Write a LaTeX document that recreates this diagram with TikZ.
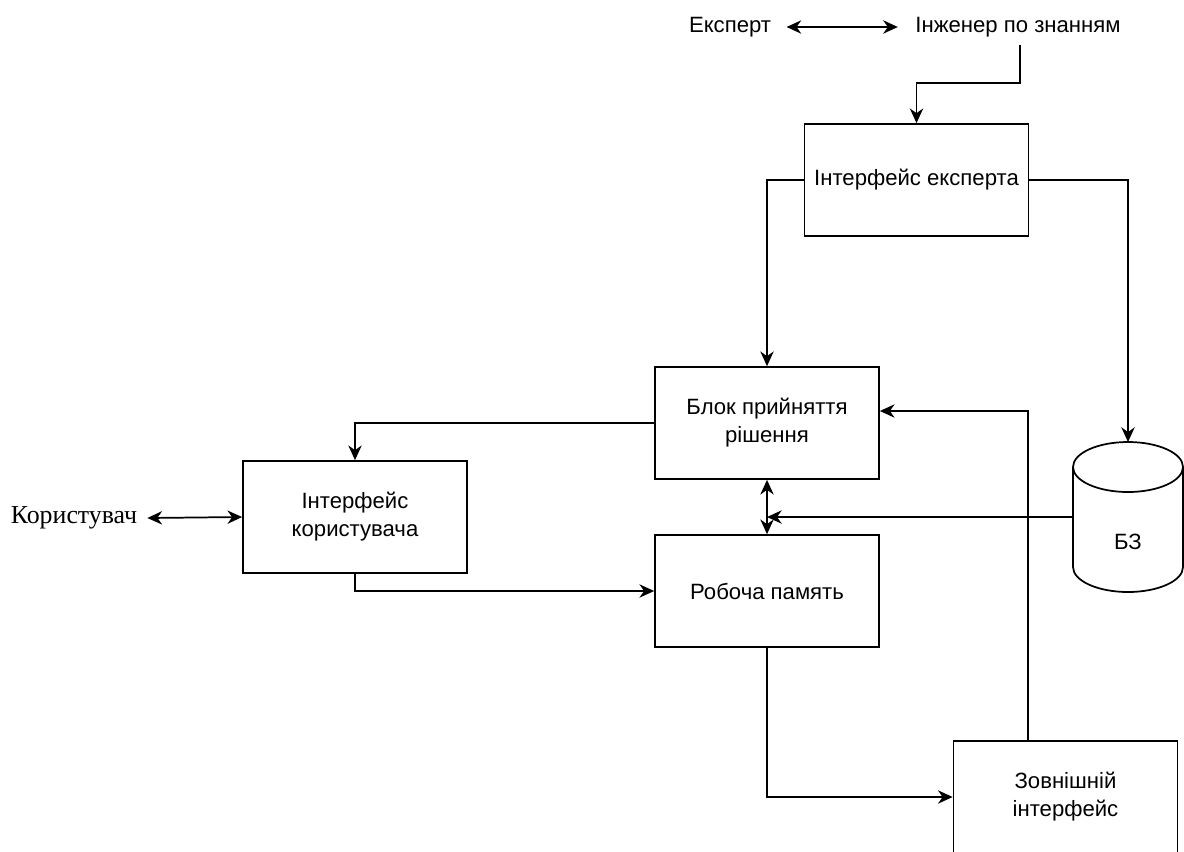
\documentclass[tikz,border=0pt]{standalone}
\usepackage{fontspec}
\setmainfont{Liberation Sans}
\newfontfamily\serifcyr{Liberation Serif}
\usetikzlibrary{arrows.meta}
\begin{document}
\begin{tikzpicture}[x=0.75pt,y=-0.75pt, line width=1.3pt,
  box/.style={draw, line width=1.3pt, minimum width=168pt, minimum height=84pt, align=center, font=\fontsize{16.6}{21}\selectfont, inner sep=0pt},
  lbl/.style={font=\fontsize{16.6}{21}\selectfont, inner sep=0pt},
  tip/.tip={Stealth[length=11pt,width=10pt,inset=3.5pt]},
  conn/.style={-tip},
  both/.style={tip-tip}
]
\useasboundingbox (0,0) rectangle (1184,851);
% nodes
\node[lbl] (exp) at (730,27) {Експерт};
\node[lbl] (eng) at (1018,27) {Інженер по знанням};
\node[box] (ie) at (916.5,180) {Інтерфейс експерта};
\node[box] (blk) at (767,423) {Блок прийняття\\рішення};
\node[box] (iu) at (355,517) {Інтерфейс\\користувача};
\node[box] (rp) at (767,591) {Робоча память};
\node[box] (zi) at (1065.5,797) {Зовнішній\\інтерфейс};
\node[font=\serifcyr\fontsize{19.4}{22}\selectfont, inner sep=0pt] (user) at (74,518) {Користувач};
% cylinder БЗ
\draw (1128,467) ellipse [x radius=41.25pt, y radius=18.75pt];
\draw (1073,467) -- (1073,567) arc[start angle=180, end angle=360, x radius=41.25pt, y radius=18.75pt] -- (1183,467);
\node[lbl] (bz) at (1128,542) {БЗ};
\coordinate (bztop) at (1128,442);
\coordinate (bzleft) at (1073,517);
\coordinate (engout) at (1020,45);
\coordinate (ziout) at (1028,741);
% connectors
\draw[both] ([xshift=11pt]exp.east) -- ([xshift=-12.5pt]eng.west);
\draw[conn] (engout) -- (1020,83) -| (ie.north);
\draw[conn] (ie.west) -| (blk.north);
\draw[conn] (ie.east) -| (bztop);
\draw[conn] (blk.west) -| (iu.north);
\draw[both] ([xshift=7pt]user.east) -- (iu.west);
\draw[conn] (iu.south) |- (rp.west);
\draw[both] (blk.south) -- (rp.north);
\draw[conn] (bzleft) -- (blk.south |- bzleft);
\draw[conn] (rp.south) |- (zi.west);
\draw[conn] (ziout) |- ([yshift=9pt]blk.east);
\end{tikzpicture}
\end{document}
